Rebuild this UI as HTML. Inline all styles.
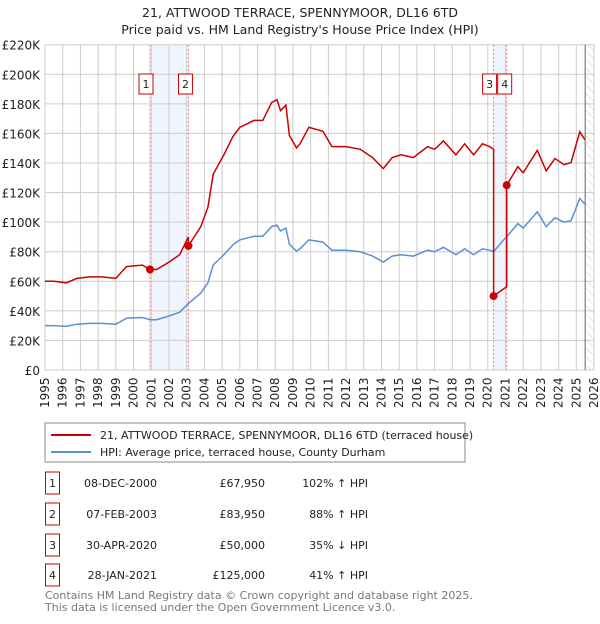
<!DOCTYPE html>
<html><head><meta charset="utf-8"><style>
body{margin:0;background:#fff;font-family:"DejaVu Sans","Liberation Sans",sans-serif;}
svg text{font-family:"DejaVu Sans","Liberation Sans",sans-serif;}
</style></head><body>
<svg id="c" width="600" height="620" xmlns="http://www.w3.org/2000/svg">
<defs><pattern id="hatch" width="6" height="6" patternUnits="userSpaceOnUse" patternTransform="rotate(-45)"><line x1="0" y1="0" x2="0" y2="6" stroke="#ccc" stroke-width="1"/></pattern></defs>
<text x="300" y="17" text-anchor="middle" font-size="12.5" fill="#222">21, ATTWOOD TERRACE, SPENNYMOOR, DL16 6TD</text>
<text x="300" y="34" text-anchor="middle" font-size="12.5" fill="#222">Price paid vs. HM Land Registry's House Price Index (HPI)</text>
<g id="grid"></g><g id="marks"></g><g id="axes"></g>
<rect x="45" y="423" width="420" height="39" fill="#fff" stroke="#888"/>
<line x1="51" y1="435" x2="91" y2="435" stroke="#cc0000" stroke-width="2"/>
<text x="100" y="439" font-size="11" fill="#222">21, ATTWOOD TERRACE, SPENNYMOOR, DL16 6TD (terraced house)</text>
<line x1="51" y1="452" x2="91" y2="452" stroke="#5b8fd6" stroke-width="2"/>
<text x="100" y="456" font-size="11" fill="#222">HPI: Average price, terraced house, County Durham</text>
<g id="table" font-size="11" fill="#222"></g>
<text x="45" y="599" font-size="11" fill="#777">Contains HM Land Registry data © Crown copyright and database right 2025.</text>
<text x="45" y="611" font-size="11" fill="#777">This data is licensed under the Open Government Licence v3.0.</text>
</svg>
<script>
const hpiYears=[1995.0,1995.5,1996.2,1996.8,1997.5,1998.2,1999.0,1999.6,2000.5,2000.93,2001.3,2002.0,2002.6,2003.1,2003.8,2004.2,2004.5,2005.1,2005.6,2006.0,2006.8,2007.3,2007.8,2008.1,2008.3,2008.6,2008.8,2009.2,2009.4,2009.9,2010.7,2011.2,2012.0,2012.8,2013.5,2014.1,2014.6,2015.1,2015.8,2016.6,2017.0,2017.5,2018.2,2018.7,2019.2,2019.7,2020.1,2020.33,2020.9,2021.07,2021.7,2022.0,2022.8,2023.3,2023.8,2024.3,2024.7,2025.2,2025.5];
const hpiValues=[30,30,29.5,31,31.5,31.5,31,35,35.5,34,34,36.5,39,45,52,59,71,78,84.5,88,90.5,90.5,97,98,94,96,85,80.5,82,88,86.5,81,81,80,77,73,77,78,77,81,80,83,78,82,78,82,81,80,88,90,99,96,107,97,103,100,101,116,112];
const saleYears=[2000.93,2003.1,2020.33,2021.07];
const salePrices=[67.95,83.95,50,125];
const saleLabels=["1","2","3","4"];
const saleDates=["08-DEC-2000","07-FEB-2003","30-APR-2020","28-JAN-2021"];
const salePriceText=["£67,950","£83,950","£50,000","£125,000"];
const saleHpiText=["102% ↑ HPI","88% ↑ HPI","35% ↓ HPI","41% ↑ HPI"];
const yTicks=[0,20,40,60,80,100,120,140,160,180,200,220];
const xTicks=[1995,1996,1997,1998,1999,2000,2001,2002,2003,2004,2005,2006,2007,2008,2009,2010,2011,2012,2013,2014,2015,2016,2017,2018,2019,2020,2021,2022,2023,2024,2025,2026];

const NS="http://www.w3.org/2000/svg";
const X0=45,X1=594,Y0=370,Y1=44.7;
const xs=y=>X0+(y-1995)/(2026-1995)*(X1-X0);
const ys=v=>Y0-v/220*(Y0-Y1);
function mk(tag,attrs,parent){const e=document.createElementNS(NS,tag);for(const k in attrs)e.setAttribute(k,attrs[k]);parent.appendChild(e);return e;}
const grid=document.getElementById('grid'),marks=document.getElementById('marks'),axes=document.getElementById('axes'),table=document.getElementById('table');
function hpiAt(t){for(let i=0;i<hpiYears.length-1;i++){if(t>=hpiYears[i]&&t<=hpiYears[i+1]){const f=(t-hpiYears[i])/(hpiYears[i+1]-hpiYears[i]);return hpiValues[i]+f*(hpiValues[i+1]-hpiValues[i]);}}return hpiValues[hpiValues.length-1];}
let sh=mk('rect',{x:xs(saleYears[0]),y:Y1,width:xs(saleYears[1])-xs(saleYears[0]),height:Y0-Y1,fill:'#f0f4fc'},grid);


let sh2=mk('rect',{x:xs(saleYears[2]),y:Y1,width:xs(saleYears[3])-xs(saleYears[2]),height:Y0-Y1,fill:'#f0f4fc'},grid);


let hz=mk('rect',{x:xs(2025.5),y:Y1,width:X1-xs(2025.5),height:Y0-Y1,fill:'url(#hatch)'},grid);


yTicks.forEach(v=>{
 let l=mk('line',{x1:X0,x2:X1,y1:ys(v),y2:ys(v),stroke:'#ccc','stroke-width':1},grid);
 
 
 let t=mk('text',{x:40,y:ys(v)+5,'text-anchor':'end','font-size':12,fill:'#222'},axes);
 t.textContent=v===0?'£0':'£'+v+'K';
 
 
});
xTicks.forEach(y=>{
 let l=mk('line',{x1:xs(y),x2:xs(y),y1:Y1,y2:Y0,stroke:'#ccc','stroke-width':1},grid);
 
 
 let t=mk('text',{transform:`translate(${xs(y)+4},${Y0+38}) rotate(-90)`,'font-size':12,fill:'#222'},axes);
 t.textContent=y;
 
 
});
let nl=mk('line',{x1:xs(2025.5),x2:xs(2025.5),y1:Y1,y2:Y0,stroke:'#666','stroke-width':1},grid);


saleYears.forEach((s,i)=>{
 let l=mk('line',{x1:xs(s),x2:xs(s),y1:Y1,y2:Y0,stroke:'#f08080','stroke-width':1,'stroke-dasharray':'2,2'},grid);
 
 
});
let d='';hpiYears.forEach((t,i)=>{d+=(i?'L':'M')+xs(t).toFixed(1)+','+ys(hpiValues[i]).toFixed(1);});
let hp=mk('path',{d,fill:'none',stroke:'#5b8fd6','stroke-width':1.5},marks);


const ratios=saleYears.map((s,i)=>salePrices[i]/hpiAt(s));
let pts=[];
hpiYears.forEach((t,i)=>{let k=0;for(let j=0;j<saleYears.length;j++)if(t>=saleYears[j])k=j;pts.push([t,hpiValues[i]*ratios[k]]);});
saleYears.forEach((s,j)=>{if(j>0)pts.push([s-0.0001,hpiAt(s)*ratios[j-1]]);pts.push([s,salePrices[j]]);});
pts.sort((a,b)=>a[0]-b[0]);
let d2='';pts.forEach((p,i)=>{d2+=(i?'L':'M')+xs(p[0]).toFixed(1)+','+ys(p[1]).toFixed(1);});
let pp=mk('path',{d:d2,fill:'none',stroke:'#cc0000','stroke-width':1.5},marks);


const boxOff=[-11,-10,-11,-9];
saleYears.forEach((s,i)=>{
 let c=mk('circle',{cx:xs(s),cy:ys(salePrices[i]),r:4,fill:'#cc0000'},marks);
 
 
 let bx=xs(s)+boxOff[i];
 let g=mk('g',{},marks);
 
 
 mk('rect',{x:bx,y:74,width:14,height:20,fill:'#fff',stroke:'#cc0000'},g);
 let t=mk('text',{x:bx+7,y:88,'text-anchor':'middle','font-size':11,fill:'#222'},g);
 t.textContent=saleLabels[i];
});
const rowY=[484,515,546,576];
saleYears.forEach((s,i)=>{
 let g=mk('g',{},table);
 
 
 mk('rect',{x:45.5,y:rowY[i]-12,width:14,height:22,fill:'#fff',stroke:'#cc0000'},g);
 let a=mk('text',{x:52.5,y:rowY[i]+3,'text-anchor':'middle'},g);a.textContent=saleLabels[i];
 let b=mk('text',{x:157,y:rowY[i]+3,'text-anchor':'end'},g);b.textContent=saleDates[i];
 let c=mk('text',{x:265,y:rowY[i]+3,'text-anchor':'end'},g);c.textContent=salePriceText[i];
 let e=mk('text',{x:368,y:rowY[i]+3,'text-anchor':'end'},g);e.textContent=saleHpiText[i];
});
</script>
</body></html>
